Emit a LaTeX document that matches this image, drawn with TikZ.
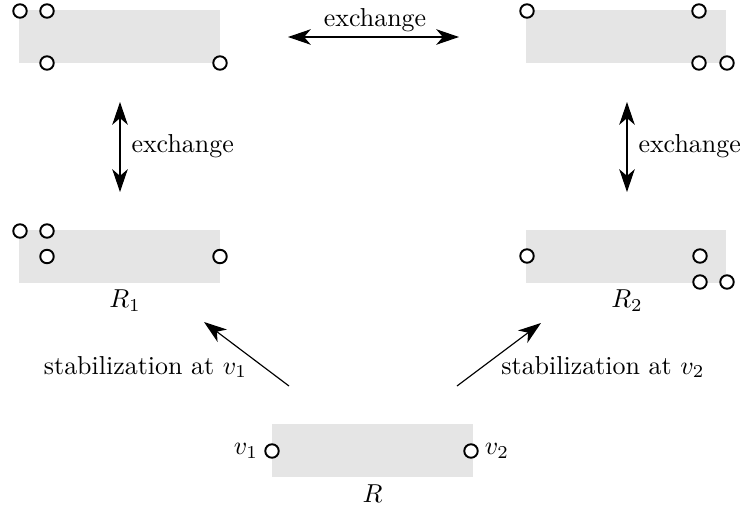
\documentclass[tikz,border=0pt]{standalone}
\usetikzlibrary{arrows.meta}
\begin{document}
\begin{tikzpicture}[x=0.3855pt,y=-0.3855pt,
  region/.style={fill=black!10, draw=none, minimum width=77.3pt, minimum height=20.4pt, inner sep=0pt},
  vtx/.style={circle, draw=black, fill=white, line width=0.75pt, minimum size=5.2pt, inner sep=0pt},
  tip/.tip={Stealth[length=8.8pt,width=6pt,inset=2.6pt]},
  xarrow/.style={tip-tip, line width=0.45pt},
  sarrow/.style={-tip, line width=0.45pt},
  lbl/.style={inner sep=0pt}]
\useasboundingbox (0,0) rectangle (746,510);
% regions
\node[region] (A)  at (119.5,36.5) {};
\node[region] (B)  at (626,36.5) {};
\node[region] (R1) at (119.5,256.5) {};
\node[region] (R2) at (626,256.5) {};
\node[region] (R)  at (372.5,450.5) {};
% vertices of A
\node[vtx] (a1) at (20,11) {};
\node[vtx] (a2) at (47,11) {};
\node[vtx] (a3) at (47,63) {};
\node[vtx] (a4) at (220,63) {};
% vertices of B
\node[vtx] (b1) at (527,11) {};
\node[vtx] (b2) at (699,11) {};
\node[vtx] (b3) at (699,63) {};
\node[vtx] (b4) at (727,63) {};
% vertices of R1
\node[vtx] (c1) at (20,231) {};
\node[vtx] (c2) at (47,231) {};
\node[vtx] (c3) at (47,256.5) {};
\node[vtx] (c4) at (220,256.5) {};
% vertices of R2
\node[vtx] (d1) at (527,256) {};
\node[vtx] (d2) at (700,256) {};
\node[vtx] (d3) at (700,282) {};
\node[vtx] (d4) at (727,282) {};
% vertices of R
\node[vtx] (v1) at (272,451) {};
\node[vtx] (v2) at (471,451) {};
% labels
\node[lbl] (lv1) at (246,451) {$v_1$};
\node[lbl] (lv2) at (497,451) {$v_2$};
\node[lbl] (lR)  at (372.5,494) {$R$};
\node[lbl] (lR1) at (125,301) {$R_1$};
\node[lbl] (lR2) at (627,301) {$R_2$};
% arrow end points
\coordinate (t1) at (288,37);
\coordinate (t2) at (459,37);
\coordinate (l1) at (120,102);
\coordinate (l2) at (120,192);
\coordinate (r1) at (627,102);
\coordinate (r2) at (627,192);
\coordinate (s1) at (289,386);
\coordinate (s1e) at (204,322);
\coordinate (s2) at (457,386);
\coordinate (s2e) at (541,323);
% arrows
\draw[xarrow] (t1) -- (t2);
\draw[xarrow] (l1) -- (l2);
\draw[xarrow] (r1) -- (r2);
\draw[sarrow] (s1) -- (s1e);
\draw[sarrow] (s2) -- (s2e);
% arrow labels
\node[lbl] (e1) at (375,20) {exchange};
\node[lbl, anchor=west] (e2) at (131,146) {exchange};
\node[lbl, anchor=west] (e3) at (638,146) {exchange};
\node[lbl] (st1) at (145.5,367) {stabilization at $v_1$};
\node[lbl] (st2) at (603,367) {stabilization at $v_2$};
\end{tikzpicture}
\end{document}
